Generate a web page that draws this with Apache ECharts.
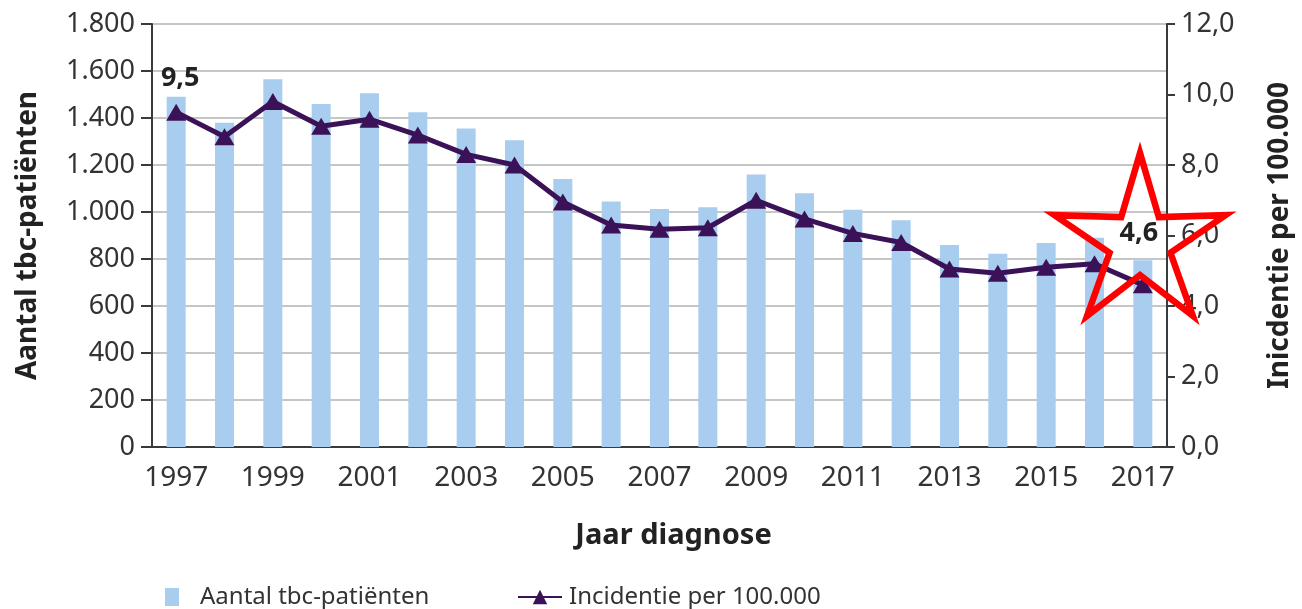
<!DOCTYPE html>
<html lang="nl">
<head>
    <meta charset="UTF-8">
    <title>Tbc in Nederland</title>
    <script src="https://cdn.jsdelivr.net/npm/echarts@6/dist/echarts.min.js"></script>
    <style>
        html, body { margin: 0; padding: 0; background: #fff; }
        #chart { width: 1302px; height: 609px; }
    </style>
</head>
<body>
<div id="chart"></div>
<script>
    // data
    var jaren = ['1997','1998','1999','2000','2001','2002','2003','2004','2005','2006','2007',
                 '2008','2009','2010','2011','2012','2013','2014','2015','2016','2017'];
    var patienten = [1490, 1380, 1565, 1460, 1505, 1425, 1355, 1305, 1140, 1045, 1013,
                     1020, 1160, 1080, 1010, 965, 860, 822, 868, 890, 795];
    var incidentie = [9.5, 8.8, 9.8, 9.1, 9.3, 8.85, 8.3, 8.0, 6.95, 6.3, 6.18,
                      6.22, 7.0, 6.47, 6.06, 5.8, 5.05, 4.93, 5.1, 5.2, 4.6];
    var linksTicks = [0, 200, 400, 600, 800, 1000, 1200, 1400, 1600, 1800];
    var rechtsTicks = [0, 2, 4, 6, 8, 10, 12];

    var fontFam = '"Noto Sans", "Open Sans", sans-serif';
    var gridColor = '#c6c6c6';
    var axisColor = '#3a3a3a';
    var lineColor = '#3b1257';
    var barColor = '#a9cdef';

    function nlGetal(v) {
        // 1800 -> 1.800
        return String(v).replace(/\B(?=(\d{3})+(?!\d))/g, '.');
    }
    function nlKomma(v) {
        return v.toFixed(1).replace('.', ',');
    }

    // alleen eerste en laatste punt krijgen een label
    var lijnData = incidentie.map(function (v, i) {
        var item = { value: v };
        if (i === 0) {
            item.label = { show: true, position: 'top', distance: 12, offset: [4, 0] };
        } else if (i === incidentie.length - 1) {
            item.label = { show: true, position: 'top', distance: 30, offset: [-4, 0] };
        }
        return item;
    });

    // ster (annotatie)
    function sterPunten(cx, cy, R, r) {
        var pts = [];
        for (var k = 0; k < 10; k++) {
            var a = -Math.PI / 2 + k * Math.PI / 5;
            var rad = (k % 2 === 0) ? R : r;
            pts.push([cx + rad * Math.cos(a), cy + rad * Math.sin(a)]);
        }
        return pts;
    }

    var chart = echarts.init(document.getElementById('chart'));
    var option = {
        animation: false,
        textStyle: { fontFamily: fontFam },
        grid: { left: 152, right: 127, top: 24, bottom: 162 },
        legend: [
            {
                data: ['Aantal tbc-patiënten'],
                left: 160, top: 580,
                itemWidth: 14, itemHeight: 18,
                icon: 'rect',
                textStyle: { fontSize: 24, color: '#333', fontFamily: fontFam, padding: [0, 0, 0, 16] }
            },
            {
                data: ['Incidentie per 100.000'],
                left: 512, top: 580,
                itemWidth: 44, itemHeight: 18,
                textStyle: { fontSize: 24, color: '#333', fontFamily: fontFam, padding: [0, 0, 0, 2] }
            }
        ],
        xAxis: {
            type: 'category',
            data: jaren,
            name: 'Jaar diagnose',
            nameLocation: 'middle',
            nameGap: 74,
            nameTextStyle: { fontSize: 29, fontWeight: 'bold', color: '#222', fontFamily: fontFam, padding: [0, 0, 0, 28] },
            axisLine: { lineStyle: { color: axisColor, width: 2 } },
            axisTick: { interval: 3, length: 8, lineStyle: { color: axisColor, width: 2 } },
            axisLabel: { interval: 1, margin: 17, fontSize: 28, color: '#333', fontFamily: fontFam },
            splitLine: { show: false }
        },
        yAxis: [
            {
                type: 'value',
                min: linksTicks[0],
                max: linksTicks[linksTicks.length - 1],
                interval: linksTicks[1] - linksTicks[0],
                name: 'Aantal tbc-patiënten',
                nameLocation: 'middle',
                nameRotate: 90,
                nameGap: 110,
                nameTextStyle: { fontSize: 28, fontWeight: 'bold', color: '#222', fontFamily: fontFam },
                axisLine: { show: true, lineStyle: { color: axisColor, width: 2 } },
                axisTick: { show: true, length: 11, lineStyle: { color: axisColor, width: 2 } },
                axisLabel: { margin: 17, fontSize: 27, color: '#333', fontFamily: fontFam, formatter: nlGetal },
                splitLine: { show: true, lineStyle: { color: gridColor, width: 2 } }
            },
            {
                type: 'value',
                position: 'right',
                min: rechtsTicks[0],
                max: rechtsTicks[rechtsTicks.length - 1],
                interval: rechtsTicks[1] - rechtsTicks[0],
                name: 'Inicdentie per 100.000',
                nameLocation: 'middle',
                nameRotate: 90,
                nameGap: 99,
                nameTextStyle: { fontSize: 28, fontWeight: 'bold', color: '#222', fontFamily: fontFam },
                axisLine: { show: true, lineStyle: { color: axisColor, width: 2 } },
                axisTick: { show: true, length: 8, lineStyle: { color: axisColor, width: 2 } },
                axisLabel: { margin: 14, fontSize: 27, color: '#333', fontFamily: fontFam, formatter: nlKomma },
                splitLine: { show: false }
            }
        ],
        series: [
            {
                name: 'Aantal tbc-patiënten',
                type: 'bar',
                yAxisIndex: 0,
                barWidth: 19,
                itemStyle: { color: barColor },
                data: patienten
            },
            {
                name: 'Incidentie per 100.000',
                type: 'line',
                yAxisIndex: 1,
                symbol: 'triangle',
                symbolSize: [20, 17],
                lineStyle: { color: lineColor, width: 5 },
                itemStyle: { color: lineColor },
                label: {
                    show: false,
                    fontSize: 27, fontWeight: 'bold', color: '#222', fontFamily: fontFam,
                    formatter: function (p) { return nlKomma(p.value); }
                },
                data: lijnData
            }
        ],
        graphic: [
            {
                type: 'polygon',
                z: 100,
                shape: { points: sterPunten(1140, 243, 90, 32) },
                style: { fill: 'none', stroke: '#ff0000', lineWidth: 6.5, lineJoin: 'miter' }
            }
        ]
    };
    chart.setOption(option);
</script>
</body>
</html>
